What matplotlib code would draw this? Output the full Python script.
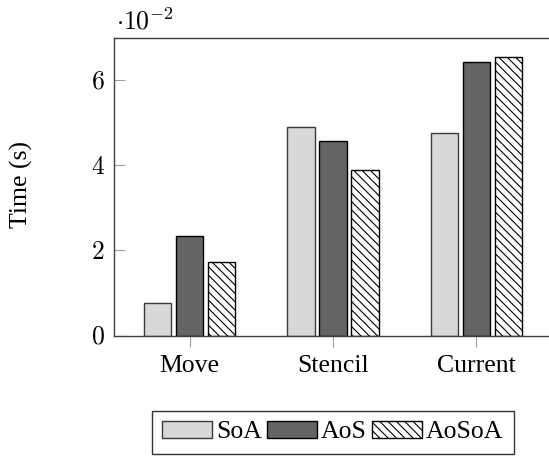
import matplotlib
matplotlib.use("Agg")
import matplotlib.pyplot as plt
import numpy as np

categories = ["Move", "Stencil", "Current"]
series_names = ["SoA", "AoS", "AoSoA"]
soa = [0.0076, 0.0490, 0.0476]
aos = [0.0234, 0.0457, 0.0644]
aosoa = [0.0173, 0.0389, 0.0655]
ytick_vals = [0, 0.02, 0.04, 0.06]
ytick_labels = ["$0$", "$2$", "$4$", "$6$"]

plt.rcParams['font.family'] = ['Liberation Serif', 'DejaVu Serif']
plt.rcParams['mathtext.fontset'] = 'cm'
plt.rcParams['hatch.linewidth'] = 0.8
plt.rcParams['hatch.color'] = 'black'

W, H = 549, 458
fig = plt.figure(figsize=(W/100, H/100), dpi=100)
left, right, top, bottom = 114.3, 551.7, 37.7, 335.5
ax = fig.add_axes([left/W, 1-bottom/H, (right-left)/W, (bottom-top)/H])

x = np.arange(len(categories))
bw = 0.19
step = 0.2233
fs = 18.5

styles = [
    dict(facecolor='#d8d8d8', edgecolor='#3a3a3a', hatch=None),
    dict(facecolor='#646464', edgecolor='black', hatch=None),
    dict(facecolor='white', edgecolor='black', hatch='\\\\\\\\'),
]
handles = []
for i, (vals, st, name) in enumerate(zip([soa, aos, aosoa], styles, series_names)):
    b = ax.bar(x + (i-1)*step, vals, width=bw, facecolor=st['facecolor'],
               edgecolor=st['edgecolor'], hatch=st['hatch'], linewidth=1.0,
               label=name, zorder=2)
    handles.append(b)

ax.set_xlim(-0.525, 2.525)
ax.set_ylim(0, 0.07)
ax.set_xticks(x)
ax.set_xticklabels(categories, fontsize=fs)
ax.set_yticks(ytick_vals)
ax.set_yticklabels(ytick_labels, fontsize=fs)
ax.tick_params(axis='y', direction='in', length=8, width=0.8, color='#a0a0a0', pad=7)
ax.tick_params(axis='x', direction='out', length=8, width=0.8, color='#a0a0a0', pad=6)
for s in ax.spines.values():
    s.set_color('#404040')
    s.set_linewidth(1.0)
    s.set_zorder(3)

fig.text(116/W, 1-29.3/H, r'$\cdot 10^{-2}$', fontsize=fs, ha='left', va='baseline')
fig.text(21/W, 1-184/H, 'Time (s)', fontsize=fs, rotation=90, ha='center', va='center')

leg = fig.legend(handles=handles, labels=series_names, loc='center',
                 bbox_to_anchor=(332.8/W, 1-432.3/H), ncol=3, fontsize=fs,
                 frameon=True, fancybox=False, edgecolor='black',
                 handlelength=1.95, handleheight=0.6, handletextpad=0.15,
                 columnspacing=0.2, borderpad=0.4, borderaxespad=0)
leg.get_frame().set_linewidth(1.0)

fig.savefig("out.png", dpi=100)
